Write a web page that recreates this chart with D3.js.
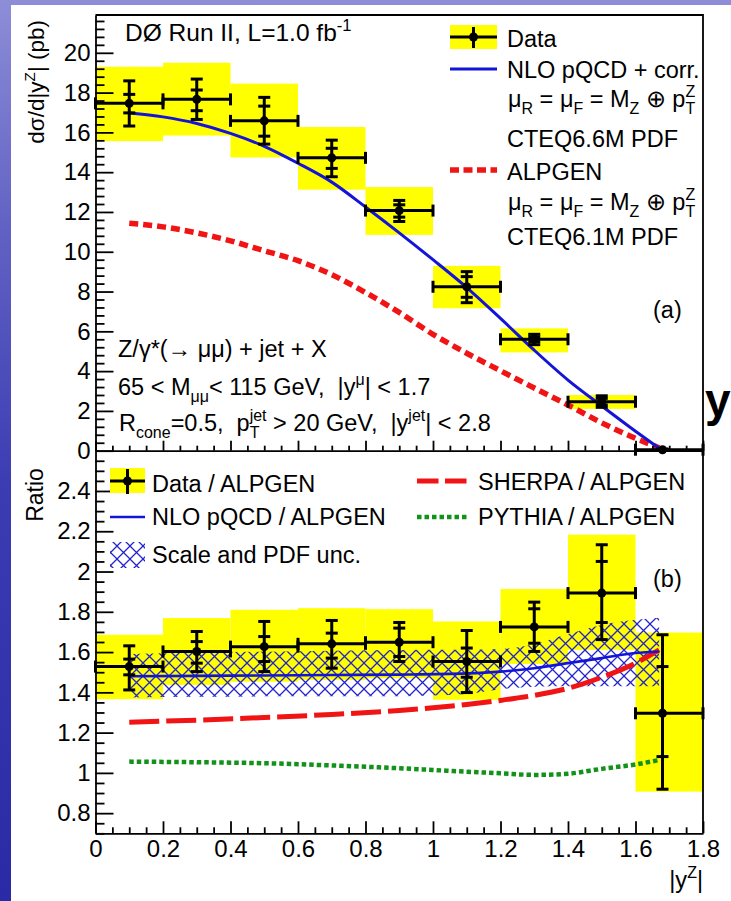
<!DOCTYPE html>
<html><head><meta charset="utf-8">
<script src="https://cdn.jsdelivr.net/npm/d3@7/dist/d3.min.js"></script>
<style>
html,body{margin:0;padding:0;background:#3a3ab0;}
svg{display:block;font-family:"Liberation Sans",Arial,Helvetica,sans-serif;}
text{white-space:pre;}
</style></head>
<body><svg id="chart" width="731" height="901"></svg>
<script>
// ---------------- data ----------------
const binEdges   = [0, 0.2, 0.4, 0.6, 0.8, 1.0, 1.2, 1.4, 1.6, 1.8];
const binCenters = [0.1, 0.3, 0.5, 0.7, 0.9, 1.1, 1.3, 1.5, 1.68];

// upper panel: dsigma/d|yZ| (pb)
const dataY      = [17.46, 17.66, 16.58, 14.72, 12.07, 8.24, 5.60, 2.46, 0.05];
const dataStatLo = [16.98, 17.09, 15.81, 14.19, 11.74, 7.71, 5.48, 2.30, 0.03];
const dataStatHi = [17.91, 18.13, 17.32, 15.20, 12.36, 8.75, 5.72, 2.63, 0.07];
const dataTotLo  = [16.32, 16.65, 15.41, 13.77, 11.52, 7.44, 5.33, 2.18, 0.02];
const dataTotHi  = [18.59, 18.68, 17.76, 15.61, 12.58, 9.00, 5.85, 2.76, 0.08];
const dataSysLo  = [15.56, 15.84, 14.74, 13.12, 10.85, 7.16, 4.94, 2.10, 0.01];
const dataSysHi  = [19.30, 19.50, 18.45, 16.27, 13.25, 9.29, 6.15, 2.80, 0.09];

const theoryX = [0.1, 0.2, 0.3, 0.4, 0.5, 0.6, 0.7, 0.8, 0.9, 1.0, 1.1, 1.2, 1.3, 1.4, 1.5, 1.6, 1.67];
const nloY    = [16.98, 16.78, 16.45, 15.95, 15.30, 14.45, 13.50, 12.25, 10.95, 9.60, 8.20, 6.65, 5.05, 3.55, 2.25, 0.98, 0.12];
const alpgenY = [11.43, 11.25, 10.95, 10.55, 10.05, 9.55, 8.85, 7.95, 6.95, 5.85, 4.90, 4.02, 3.15, 2.30, 1.40, 0.62, 0.15];

// lower panel: ratios to ALPGEN
const ratioY      = [1.528, 1.603, 1.627, 1.641, 1.649, 1.553, 1.725, 1.893, 1.296];
const ratioStatLo = [1.487, 1.545, 1.553, 1.570, 1.578, 1.475, 1.644, 1.747, 1.081];
const ratioStatHi = [1.565, 1.652, 1.677, 1.694, 1.719, 1.620, 1.815, 2.050, 1.528];
const ratioTotLo  = [1.412, 1.503, 1.503, 1.520, 1.553, 1.399, 1.603, 1.662, 0.919];
const ratioTotHi  = [1.631, 1.702, 1.752, 1.757, 1.747, 1.707, 1.848, 2.133, 1.686];
const ratioSysLo  = [1.366, 1.437, 1.453, 1.462, 1.470, 1.363, 1.541, 1.611, 0.907];
const ratioSysHi  = [1.686, 1.769, 1.810, 1.818, 1.813, 1.752, 1.913, 2.183, 1.697];

const ratioTheoryX = [0.1, 0.3, 0.5, 0.7, 0.9, 1.1, 1.2, 1.3, 1.4, 1.5, 1.6, 1.67];
const nloRatio     = [1.480, 1.482, 1.484, 1.486, 1.488, 1.494, 1.503, 1.520, 1.545, 1.570, 1.595, 1.603];
const uncLo        = [1.375, 1.378, 1.380, 1.380, 1.381, 1.392, 1.415, 1.428, 1.430, 1.430, 1.430, 1.430];
const uncHi        = [1.590, 1.598, 1.602, 1.606, 1.610, 1.611, 1.615, 1.640, 1.690, 1.735, 1.760, 1.770];
const sherpaRatio  = [1.252, 1.262, 1.275, 1.290, 1.310, 1.340, 1.360, 1.385, 1.420, 1.475, 1.545, 1.611];
const pythiaRatio  = [1.056, 1.053, 1.048, 1.037, 1.023, 1.006, 0.998, 0.990, 0.996, 1.020, 1.042, 1.064];

// ticks
const upperYTicks = [0, 2, 4, 6, 8, 10, 12, 14, 16, 18, 20];
const ratioYTicks = [0.8, 1, 1.2, 1.4, 1.6, 1.8, 2, 2.2, 2.4];
const xTicks      = [0, 0.2, 0.4, 0.6, 0.8, 1, 1.2, 1.4, 1.6, 1.8];

// ---------------- drawing ----------------
const svg = d3.select("#chart");
const defs = svg.append("defs");
const bg = defs.append("linearGradient").attr("id","bg").attr("x1",0).attr("y1",0).attr("x2",0).attr("y2",1);
[[0,"#8d8dd8"],[0.25,"#6262c4"],[0.55,"#3b3bb2"],[1,"#2a2aa6"]].forEach(([o,c])=>bg.append("stop").attr("offset",o).attr("stop-color",c));
svg.append("rect").attr("width",731).attr("height",901).attr("fill","url(#bg)");
svg.append("rect").attr("x",11).attr("y",5).attr("width",720).attr("height",896).attr("fill","#fff");

const pat = defs.append("pattern").attr("id","hatch").attr("patternUnits","userSpaceOnUse").attr("width",13).attr("height",13);
pat.append("path").attr("d","M0,0L13,13M13,0L0,13").attr("stroke","#2424cc").attr("stroke-width",1.3).attr("fill","none");

const x  = d3.scaleLinear().domain([0, 1.8]).range([95.5, 703]);
const yU = d3.scaleLinear().domain([0, 21.9]).range([450.7, 15]);
const yL = d3.scaleLinear().domain([0.7, 2.6]).range([833.3, 450.7]);

const YELLOW = "#ffff00", BLUE = "#1414d8", RED = "#f01414", GREEN = "#12921a";
const FS = 23.5;

function rich(parent, px, py, parts, size, attrs) {
  const t = parent.append("text").attr("x", px).attr("y", py).attr("font-size", size).attr("fill", "#000");
  if (attrs) for (const k in attrs) t.attr(k, attrs[k]);
  let cur = 0, prevW = 0;
  parts.forEach(p => {
    const [txt, kind, back] = Array.isArray(p) ? p : [p, "", false];
    let off = 0, fs = size;
    if (kind === "sub") { off = 0.30 * size; fs = 0.68 * size; }
    if (kind === "sup") { off = -0.42 * size; fs = 0.68 * size; }
    const ts = t.append("tspan").attr("dy", off - cur).attr("font-size", fs).text(txt);
    if (back) ts.attr("dx", -prevW);
    cur = off;
    prevW = ts.node().getComputedTextLength();
  });
  return t;
}

function drawData(g, yS, Y, sLo, sHi, tLo, tHi) {
  const idx = d3.range(Y.length);
  const seg = (cls, x1, y1, x2, y2) => g.selectAll("line." + cls).data(idx).join("line").attr("class", cls)
    .attr("x1", x1).attr("y1", y1).attr("x2", x2).attr("y2", y2)
    .attr("stroke", "#000").attr("stroke-width", 3);
  const cx = i => x(binCenters[i]);
  seg("hb", i => x(binEdges[i]), i => yS(Y[i]), i => x(binEdges[i+1]), i => yS(Y[i]));
  seg("hcl", i => x(binEdges[i]), i => yS(Y[i]) - 6, i => x(binEdges[i]), i => yS(Y[i]) + 6);
  seg("hcr", i => x(binEdges[i+1]), i => yS(Y[i]) - 6, i => x(binEdges[i+1]), i => yS(Y[i]) + 6);
  seg("vb", cx, i => yS(tHi[i]), cx, i => yS(tLo[i]));
  seg("ct", i => cx(i) - 6, i => yS(tHi[i]), i => cx(i) + 6, i => yS(tHi[i]));
  seg("cb", i => cx(i) - 6, i => yS(tLo[i]), i => cx(i) + 6, i => yS(tLo[i]));
  seg("st", i => cx(i) - 6, i => yS(sHi[i]), i => cx(i) + 6, i => yS(sHi[i]));
  seg("sb", i => cx(i) - 6, i => yS(sLo[i]), i => cx(i) + 6, i => yS(sLo[i]));
  g.selectAll("circle.m").data(idx).join("circle").attr("class", "m")
    .attr("cx", cx).attr("cy", i => yS(Y[i])).attr("r", 4.5).attr("fill", "#000");
}

function sysBoxes(g, yS, lo, hi) {
  g.selectAll("rect.sys").data(d3.range(lo.length)).join("rect").attr("class", "sys")
    .attr("x", i => x(binEdges[i])).attr("width", i => x(binEdges[i+1]) - x(binEdges[i]))
    .attr("y", i => yS(hi[i])).attr("height", i => yS(lo[i]) - yS(hi[i]))
    .attr("fill", YELLOW);
}

// ----- upper panel -----
const gU = svg.append("g");
sysBoxes(gU, yU, dataSysLo, dataSysHi);
const lineU = ys => d3.line().x((d, i) => x(theoryX[i])).y(d => yU(d)).curve(d3.curveMonotoneX)(ys);
gU.append("path").attr("d", lineU(alpgenY)).attr("fill", "none").attr("stroke", RED).attr("stroke-width", 5.5).attr("stroke-dasharray", "9,5");
gU.append("path").attr("d", lineU(nloY)).attr("fill", "none").attr("stroke", BLUE).attr("stroke-width", 3);
drawData(gU, yU, dataY, dataStatLo, dataStatHi, dataTotLo, dataTotHi);

// ----- lower panel -----
const gL = svg.append("g");
sysBoxes(gL, yL, ratioSysLo, ratioSysHi);
gL.append("path").attr("d", d3.area().x((d, i) => x(ratioTheoryX[i])).y0((d, i) => yL(uncLo[i])).y1(d => yL(d)).curve(d3.curveMonotoneX)(uncHi))
  .attr("fill", "url(#hatch)");
const lineL = ys => d3.line().x((d, i) => x(ratioTheoryX[i])).y(d => yL(d)).curve(d3.curveMonotoneX)(ys);
gL.append("path").attr("d", lineL(pythiaRatio)).attr("fill", "none").attr("stroke", GREEN).attr("stroke-width", 4.5).attr("stroke-dasharray", "4.5,3");
gL.append("path").attr("d", lineL(sherpaRatio)).attr("fill", "none").attr("stroke", RED).attr("stroke-width", 5).attr("stroke-dasharray", "30,7");
gL.append("path").attr("d", lineL(nloRatio)).attr("fill", "none").attr("stroke", BLUE).attr("stroke-width", 2.6);
drawData(gL, yL, ratioY, ratioStatLo, ratioStatHi, ratioTotLo, ratioTotHi);

// ----- axes -----
function styleAxis(g) {
  g.attr("font-family", null).attr("font-size", null);
  g.selectAll("text").attr("font-size", 24).attr("fill", "#000");
  g.selectAll("line,path").attr("stroke", "#000").attr("stroke-width", 1.8);
}
const fmt = d => String(+(+d).toFixed(2));
const upperYMinor = d3.range(0, 21.9, 0.4).map(v => +v.toFixed(1)).filter(v => Math.abs(v / 2 - Math.round(v / 2)) > 1e-6);
const ratioYMinor = d3.range(0.7, 2.6, 0.05).map(v => +v.toFixed(2)).filter(v => Math.abs(v * 5 - Math.round(v * 5)) > 1e-6);
const xMinor = d3.range(0, 1.8, 0.05).map(v => +v.toFixed(2)).filter(v => Math.abs(v * 5 - Math.round(v * 5)) > 1e-6);

const axU = svg.append("g").attr("transform", "translate(95.5,0)");
axU.call(d3.axisLeft(yU).tickValues(upperYTicks).tickSizeInner(-18).tickSizeOuter(0).tickPadding(5).tickFormat(fmt));
axU.append("g").call(d3.axisLeft(yU).tickValues(upperYMinor).tickSizeInner(-9).tickSizeOuter(0).tickFormat("")).select(".domain").remove();
styleAxis(axU);

const axL = svg.append("g").attr("transform", "translate(95.5,0)");
axL.call(d3.axisLeft(yL).tickValues(ratioYTicks).tickSizeInner(-18).tickSizeOuter(0).tickPadding(5).tickFormat(fmt));
axL.append("g").call(d3.axisLeft(yL).tickValues(ratioYMinor).tickSizeInner(-9).tickSizeOuter(0).tickFormat("")).select(".domain").remove();
styleAxis(axL);

const axXU = svg.append("g").attr("transform", `translate(0,${yU(0)})`);
axXU.call(d3.axisBottom(x).tickValues(xTicks).tickSizeInner(-10).tickSizeOuter(0).tickFormat(""));
axXU.append("g").call(d3.axisBottom(x).tickValues(xMinor).tickSizeInner(-5).tickSizeOuter(0).tickFormat("")).select(".domain").remove();
styleAxis(axXU);

const axXL = svg.append("g").attr("transform", `translate(0,${yL(0.7)})`);
axXL.call(d3.axisBottom(x).tickValues(xTicks).tickSizeInner(-12).tickSizeOuter(0).tickPadding(7).tickFormat(fmt));
axXL.append("g").call(d3.axisBottom(x).tickValues(xMinor).tickSizeInner(-6).tickSizeOuter(0).tickFormat("")).select(".domain").remove();
styleAxis(axXL);

// frame (top + right)
svg.append("path").attr("d", `M${x(0)},${yU(21.9)}H${x(1.8)}V${yL(0.7)}`).attr("fill", "none").attr("stroke", "#000").attr("stroke-width", 1.8);

// ----- titles -----
rich(svg.append("g").attr("transform", "translate(44,20) rotate(-90)"), 0, 0, ["dσ/d|y", ["Z", "sup"], "| (pb)"], 22.5, {"text-anchor": "end"});
svg.append("text").attr("transform", "translate(43,495) rotate(-90)").attr("text-anchor", "middle").attr("font-size", 23).text("Ratio");
rich(svg, 703, 888, ["|y", ["Z", "sup"], "|"], FS, {"text-anchor": "end"});

// ----- upper annotations -----
rich(svg, 125, 41, ["DØ Run II, L=1.0 fb", ["-1", "sup"]], 24.5);
rich(svg, 118, 357, ["Z/γ*(→ μμ) + jet + X"], FS);
rich(svg, 118, 395, ["65 < M", ["μμ", "sub"], "< 115 GeV,  |y", ["μ", "sup"], "| < 1.7"], FS);
rich(svg, 119, 431, ["R", ["cone", "sub"], "=0.5,  p", ["T", "sub"], ["jet", "sup", true], " > 20 GeV,  |y", ["jet", "sup"], "| < 2.8"], FS);
svg.append("text").attr("x", 653).attr("y", 318).attr("font-size", FS).text("(a)");
svg.append("text").attr("x", 653).attr("y", 587).attr("font-size", FS).text("(b)");

// upper legend
const lg = svg.append("g");
lg.append("rect").attr("x", 450).attr("y", 25).attr("width", 47).attr("height", 24).attr("fill", YELLOW);
lg.append("line").attr("x1", 450).attr("x2", 497).attr("y1", 37).attr("y2", 37).attr("stroke", "#000").attr("stroke-width", 3);
lg.append("line").attr("x1", 473.5).attr("x2", 473.5).attr("y1", 27).attr("y2", 48).attr("stroke", "#000").attr("stroke-width", 3);
lg.append("circle").attr("cx", 473.5).attr("cy", 37).attr("r", 4.5).attr("fill", "#000");
rich(lg, 507, 47, ["Data"], FS);
lg.append("line").attr("x1", 450).attr("x2", 497).attr("y1", 69).attr("y2", 69).attr("stroke", BLUE).attr("stroke-width", 3);
rich(lg, 507, 78, ["NLO pQCD + corr."], FS);
const muParts = ["μ", ["R", "sub"], " = μ", ["F", "sub"], " = M", ["Z", "sub"], " ⊕ p", ["T", "sub"], ["Z", "sup", true]];
rich(lg, 508, 107, muParts, FS);
rich(lg, 507, 147, ["CTEQ6.6M PDF"], FS);
lg.append("line").attr("x1", 450).attr("x2", 497).attr("y1", 170).attr("y2", 170).attr("stroke", RED).attr("stroke-width", 5.5).attr("stroke-dasharray", "9,4.5");
rich(lg, 507, 180, ["ALPGEN"], FS);
rich(lg, 508, 210, muParts, FS);
rich(lg, 507, 245, ["CTEQ6.1M PDF"], FS);

// lower legend
const ll = svg.append("g");
ll.append("rect").attr("x", 110).attr("y", 468).attr("width", 35).attr("height", 25).attr("fill", YELLOW);
ll.append("line").attr("x1", 110).attr("x2", 145).attr("y1", 481).attr("y2", 481).attr("stroke", "#000").attr("stroke-width", 3);
ll.append("line").attr("x1", 127.5).attr("x2", 127.5).attr("y1", 469).attr("y2", 494).attr("stroke", "#000").attr("stroke-width", 3);
ll.append("circle").attr("cx", 127.5).attr("cy", 481).attr("r", 4.5).attr("fill", "#000");
rich(ll, 152, 492, ["Data / ALPGEN"], FS);
ll.append("line").attr("x1", 110).attr("x2", 145).attr("y1", 517).attr("y2", 517).attr("stroke", BLUE).attr("stroke-width", 2.6);
rich(ll, 152, 525, ["NLO pQCD / ALPGEN"], FS);
ll.append("rect").attr("x", 110).attr("y", 542).attr("width", 35).attr("height", 26).attr("fill", "url(#hatch)");
rich(ll, 152, 563, ["Scale and PDF unc."], FS);
ll.append("line").attr("x1", 417).attr("x2", 467).attr("y1", 481).attr("y2", 481).attr("stroke", RED).attr("stroke-width", 5).attr("stroke-dasharray", "21.5,6.5");
rich(ll, 478, 490, ["SHERPA / ALPGEN"], FS);
ll.append("line").attr("x1", 417).attr("x2", 467).attr("y1", 517).attr("y2", 517).attr("stroke", GREEN).attr("stroke-width", 4.5).attr("stroke-dasharray", "4.5,3");
rich(ll, 478, 525, ["PYTHIA / ALPGEN"], FS);

// slide letter peeking at right edge
svg.append("text").attr("x", 705).attr("y", 416).attr("font-size", 46).attr("font-weight", "bold").attr("fill", "#000").text("y");
</script>
</body></html>
